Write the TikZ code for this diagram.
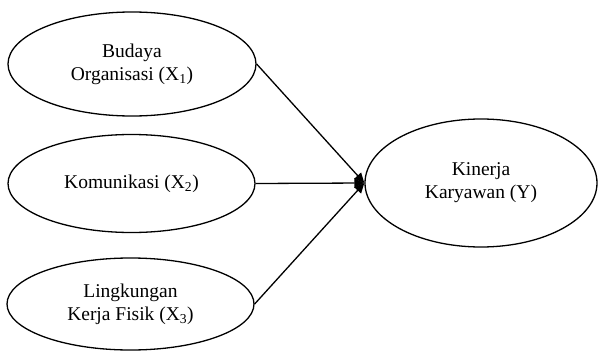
\documentclass[tikz,border=0pt]{standalone}
\usepackage{fontspec}
\setmainfont{Liberation Serif}
\usetikzlibrary{shapes.geometric,arrows.meta}
\begin{document}
\begin{tikzpicture}[x=1pt,y=-1pt,
  ell/.style={draw,ellipse,line width=1.3pt,align=center,font=\fontsize{19.5}{23}\selectfont,inner sep=0pt},
  conn/.style={line width=1.3pt,-{Triangle[length=10pt,width=9pt]}}]
\useasboundingbox (0,0) rectangle (598,351);
\node[ell,minimum width=248pt,minimum height=104pt] (x1) at (132,64) {Budaya\\Organisasi (X\textsubscript{1})};
\node[ell,minimum width=247pt,minimum height=98pt] (x2) at (131.5,183.5) {Komunikasi (X\textsubscript{2})};
\node[ell,minimum width=247pt,minimum height=92pt] (x3) at (130.5,304) {Lingkungan\\Kerja Fisik (X\textsubscript{3})};
\node[ell,minimum width=232pt,minimum height=128pt] (y) at (481,183) {Kinerja\\Karyawan (Y)};
\draw[conn] (x1.east) -- (y.west);
\draw[conn] (x2.east) -- (y.west);
\draw[conn] (x3.east) -- (y.west);
\end{tikzpicture}
\end{document}
